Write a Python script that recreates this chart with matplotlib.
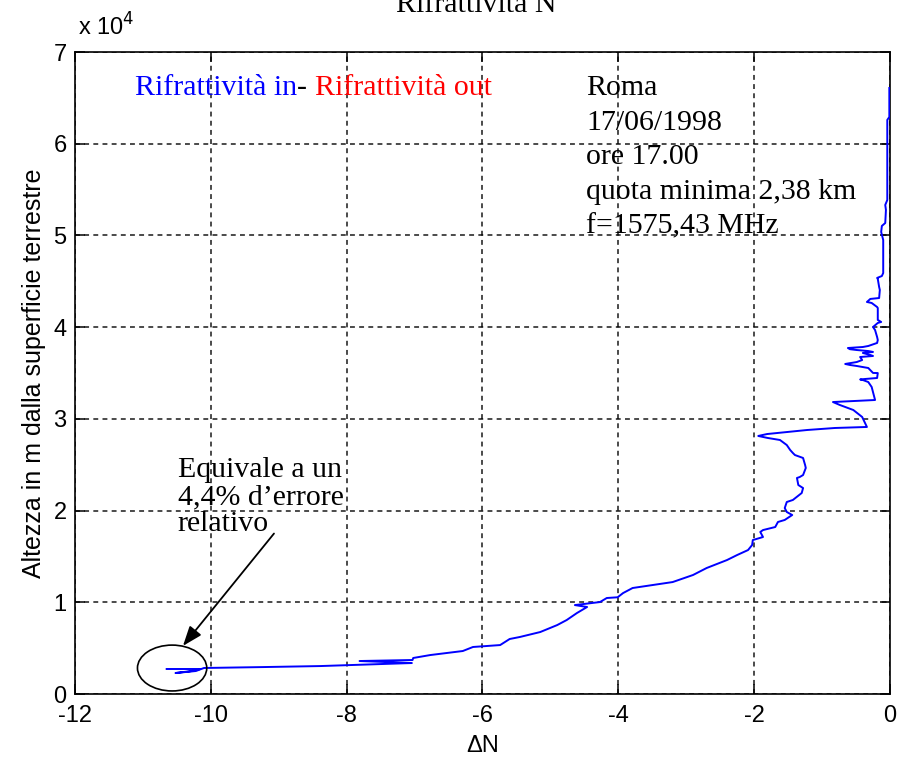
import numpy as np
import matplotlib
matplotlib.use("Agg")
import matplotlib.pyplot as plt
from matplotlib.patches import Ellipse

# Refractivity difference profile (in - out) vs altitude, Roma 17/06/1998
delta_n = [
    -10.65, -10.16, -10.28, -10.52, -10.22, -10.10, -9.23, -8.39, -7.51, -7.04,
    -7.81, -7.03, -7.02, -6.77, -6.29, -6.14, -5.74, -5.60, -5.45, -5.15,
    -4.90, -4.76, -4.61, -4.46, -4.64, -4.27, -4.17, -4.01, -3.93, -3.79,
    -3.49, -3.20, -2.90, -2.70, -2.40, -2.25, -2.09, -2.03, -2.02, -1.87,
    -1.91, -1.87, -1.69, -1.65, -1.55, -1.44, -1.52, -1.55, -1.52, -1.43,
    -1.30, -1.28, -1.35, -1.37, -1.33, -1.28, -1.24, -1.25, -1.28, -1.40,
    -1.43, -1.47, -1.52, -1.62, -1.80, -1.94, -1.81, -1.52, -1.22, -0.81,
    -0.34, -0.41, -0.54, -0.74, -0.84, -0.22, -0.25, -0.27, -0.32, -0.40,
    -0.44, -0.37, -0.19, -0.18, -0.25, -0.32, -0.49, -0.59, -0.66, -0.49,
    -0.41, -0.44, -0.25, -0.29, -0.40, -0.25, -0.32, -0.49, -0.59, -0.62,
    -0.40, -0.32, -0.19, -0.18, -0.19, -0.22, -0.25, -0.18, -0.13, -0.18,
    -0.18, -0.19, -0.27, -0.34, -0.29, -0.16, -0.15, -0.16, -0.18, -0.19,
    -0.12, -0.10, -0.10, -0.13, -0.12, -0.07, -0.06, -0.07, -0.04, -0.04,
    -0.01, -0.01,
]
altitude_m = [
    2730, 2730, 2510, 2290, 2510, 2840, 2940, 3050, 3270, 3380,
    3600, 3710, 3930, 4250, 4690, 5130, 5340, 6000, 6220, 6760,
    7520, 8070, 8830, 9490, 9700, 10030, 10470, 10550, 11010, 11560,
    11890, 12210, 12980, 13740, 14610, 15160, 15700, 16250, 16790, 17120,
    17670, 17880, 18210, 18760, 18980, 19520, 19850, 20280, 20940, 21160,
    21920, 22460, 22790, 23560, 23660, 23880, 24650, 24970, 25740, 26060,
    26280, 26610, 27150, 27700, 27920, 28140, 28350, 28570, 28790, 29010,
    29120, 30210, 30970, 31520, 31840, 32060, 32930, 33480, 34020, 34240,
    34300, 34350, 34460, 35000, 35010, 35550, 35770, 35880, 35990, 36200,
    36420, 36750, 36860, 36970, 37190, 37300, 37400, 37510, 37600, 37730,
    37840, 37950, 38280, 38600, 38930, 39690, 40020, 40460, 40570, 40790,
    42090, 42200, 42640, 42750, 43080, 43180, 44060, 44380, 45260, 45370,
    45580, 45910, 49510, 50380, 51040, 51360, 52780, 53330, 53870, 62600,
    62920, 66080,
]

x_ticks = [-12, -10, -8, -6, -4, -2, 0]
y_ticks = [0, 1, 2, 3, 4, 5, 6, 7]
info_lines = ["Roma", "17/06/1998", "ore 17.00", "quota minima 2,38 km", "f=1575,43 MHz"]
note_lines = ["Equivale a un", "4,4% d\u2019errore", "relativo"]

plt.rcParams["axes.unicode_minus"] = False
sans = ["Liberation Sans", "DejaVu Sans"]
serif = ["Liberation Serif", "DejaVu Serif"]
TXT = 21.5  # size of the serif annotations

fig = plt.figure(figsize=(8.98, 7.61), dpi=100)
ax = fig.add_axes([0.0835, 0.088, 0.9076, 0.8436])

ax.plot(delta_n, altitude_m, color="blue", lw=1.4, zorder=3)

ax.set_xlim(-12, 0)
ax.set_ylim(0, 7e4)
ax.set_xticks(x_ticks)
ax.set_xticklabels([str(t) for t in x_ticks], family=sans)
ax.set_yticks([t * 1e4 for t in y_ticks])
ax.set_yticklabels([str(t) for t in y_ticks], family=sans)
ax.tick_params(direction="in", length=7, width=1.1, labelsize=17,
               top=True, right=True, colors="black")
ax.tick_params(axis="x", pad=8)
ax.tick_params(axis="y", pad=6)
for s in ax.spines.values():
    s.set_linewidth(1.2)
ax.grid(True, color="black", lw=1.1, linestyle=(0, (3.2, 2.8)), alpha=0.9)

ax.set_xlabel("\u0394N", family=sans, fontsize=17, labelpad=6)
ax.set_ylabel("Altezza in m dalla superficie terrestre", family=sans, fontsize=18, labelpad=5)

# exponent label in MATLAB style
ax.text(0.004, 1.018, r"x 10$^{4}$", transform=ax.transAxes, family=sans,
        fontsize=17, ha="left", va="bottom")

fig.text(0.530, 0.984, "Rifrattivit\u00e0 N", family=serif, fontsize=TXT,
         ha="center", va="baseline")

# header: blue / black dash / red, laid out one after another
y_head = 0.933
t1 = ax.text(0.0735, y_head, "Rifrattivit\u00e0 in", color="blue", family=serif,
             fontsize=TXT, transform=ax.transAxes, va="baseline")
fig.canvas.draw()
bb = t1.get_window_extent().transformed(ax.transAxes.inverted())
t2 = ax.text(bb.x1, y_head, "- ", color="black", family=serif,
             fontsize=TXT, transform=ax.transAxes, va="baseline")
fig.canvas.draw()
bb2 = t2.get_window_extent().transformed(ax.transAxes.inverted())
ax.text(bb2.x1, y_head, "Rifrattivit\u00e0 out", color="red", family=serif,
        fontsize=TXT, transform=ax.transAxes, va="baseline")

step = 34.5 / 642
for i, line in enumerate(info_lines):
    ax.text(0.627, y_head - i * step, line, family=serif, fontsize=TXT,
            transform=ax.transAxes, va="baseline", ha="left")

note_step = 27.0 / 642
for i, line in enumerate(note_lines):
    ax.text(0.126, 0.3375 - i * note_step, line, family=serif, fontsize=TXT,
            transform=ax.transAxes, va="baseline", ha="left")

ax.add_patch(Ellipse((-10.57, 2835), 1.02, 5000, fill=False, ec="black",
                     lw=1.2, zorder=4, clip_on=False))
ax.annotate("", xy=(-10.41, 5250), xytext=(-9.07, 17500),
            arrowprops=dict(arrowstyle="-|>,head_length=1.2,head_width=0.45",
                            color="black", lw=1.3, shrinkA=0, shrinkB=0))

fig.savefig("out.png", dpi=100)
